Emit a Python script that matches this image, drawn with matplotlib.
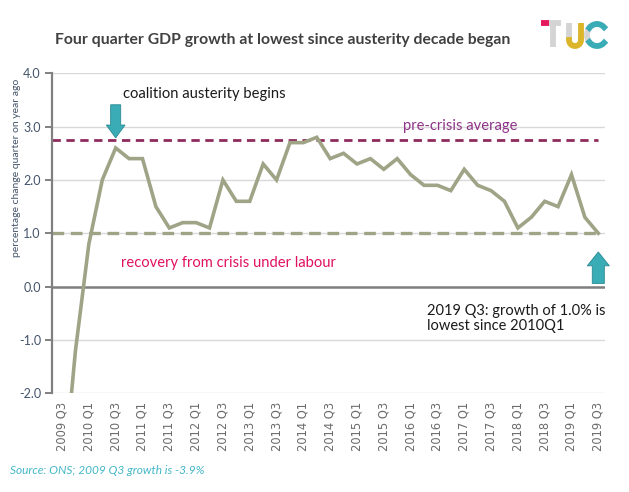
import numpy as np
import matplotlib
matplotlib.use("Agg")
import matplotlib.pyplot as plt
from matplotlib.patches import FancyArrow

plt.rcParams['font.family'] = ['Lato', 'DejaVu Sans']

# data: four quarter GDP growth, 2009 Q3 .. 2019 Q3
quarters = []
for year in range(2009, 2020):
    for q in range(1, 5):
        if (year == 2009 and q < 3) or (year == 2019 and q > 3):
            continue
        quarters.append("{} Q{}".format(year, q))

growth = [-3.9, -1.2,
          0.8, 2.0, 2.6, 2.4,
          2.4, 1.5, 1.1, 1.2,
          1.2, 1.1, 2.0, 1.6,
          1.6, 2.3, 2.0, 2.7,
          2.7, 2.8, 2.4, 2.5,
          2.3, 2.4, 2.2, 2.4,
          2.1, 1.9, 1.9, 1.8,
          2.2, 1.9, 1.8, 1.6,
          1.1, 1.3, 1.6, 1.5,
          2.1, 1.3, 1.0]

pre_crisis_avg = 2.75
latest = 1.0
y_ticks = [4.0, 3.0, 2.0, 1.0, 0.0, -1.0, -2.0]

line_col = "#a0a487"
teal = "#3aacb6"

fig = plt.figure(figsize=(6.29, 4.92), dpi=100)
ax = fig.add_axes([52/629, 1 - 393.3/492, 553/629, 320/492])

x = np.arange(len(growth))
x0, x1 = -0.75, len(growth) - 0.5
ax.set_xlim(x0, x1)
ax.set_ylim(-2.0, 4.0)

# gridlines
for v in y_ticks:
    if v == 0:
        continue
    ax.axhline(v, color="#d9d9d9", lw=1, zorder=0)
ax.axhline(0, color="#7f7f7f", lw=1.8, zorder=1)

# reference lines
ax.plot([x0, x[-1]], [pre_crisis_avg, pre_crisis_avg], color="#8e2a5c",
        lw=2, dashes=(3, 2), zorder=2)
ax.plot([x0, x[-1]], [latest, latest], color=line_col,
        lw=2.4, dashes=(3.5, 2), zorder=2)

ax.plot(x, growth, color=line_col, lw=2.6, zorder=3, solid_joinstyle="miter")

# axes styling
for s in ["top", "right", "bottom"]:
    ax.spines[s].set_visible(False)
ax.spines["left"].set_color("#808080")
ax.spines["left"].set_linewidth(1.6)
ax.set_yticks(y_ticks)
ax.set_yticklabels(["{:.1f}".format(v) for v in y_ticks])
ax.tick_params(axis="y", length=5, width=1.4, color="#808080",
               labelsize=9, labelcolor="#44546a", pad=3)
ax.set_xticks(x[::2])
ax.set_xticklabels(quarters[::2], rotation=90, fontsize=8.3,
                   color="#6b6b6b", family=["DejaVu Sans"])
ax.tick_params(axis="x", length=0, pad=6)

fig.text(17/629, 1 - 168/492, "percentage change quarter on year ago",
         rotation=90, ha="center", va="center", fontsize=7.5,
         color="#44546a")

# annotations
ax.text(4.55, 3.61, "coalition austerity begins", fontsize=10.6,
        color="#1a1a1a", va="center", ha="left")
ax.add_patch(FancyArrow(4, 3.41, 0, -0.62, width=0.75, head_width=1.4,
                        head_length=0.24, length_includes_head=True,
                        facecolor=teal, edgecolor="#2a8a92", lw=0.6, zorder=5))
ax.text(29.7, 3.02, "pre-crisis average", fontsize=10.6, color="#8e3388",
        ha="center", va="center")
ax.text(4.4, 0.44, "recovery from crisis under labour", fontsize=10.6,
        color="#e0115f", ha="left", va="center")
ax.add_patch(FancyArrow(40, 0.06, 0, 0.59, width=0.9, head_width=1.65,
                        head_length=0.26, length_includes_head=True,
                        facecolor=teal, edgecolor="#2a8a92", lw=0.6,
                        zorder=5, clip_on=False))
ax.text(27.2, -0.6, "2019 Q3: growth of 1.0% is\nlowest since 2010Q1",
        fontsize=10.5, color="#1a1a1a", ha="left", va="center",
        linespacing=1.05)

# title and source
fig.text(55/629, 1 - 40/492,
         "Four quarter GDP growth at lowest since austerity decade began",
         fontsize=11.3, fontweight="bold", color="#404040", va="center")
fig.text(10/629, 1 - 470/492, "Source: ONS; 2009 Q3 growth is -3.9%",
         fontsize=8.6, style="italic", color="#44b7c7", va="center")

# TUC logo
lg = fig.add_axes([535/629, 1 - 52/492, 75/629, 35/492])
lg.set_xlim(535, 610)
lg.set_ylim(52, 17)
lg.axis("off")
grey = "#d4d4d4"
lw = 4.2
lg.plot([541, 549], [23, 23], color="#e6175c", lw=lw, solid_capstyle="butt")
lg.plot([549, 561], [23, 23], color=grey, lw=lw, solid_capstyle="butt")
lg.plot([553, 553], [23, 47], color=grey, lw=lw, solid_capstyle="butt")
lg.plot([569, 569], [23, 40], color=grey, lw=lw, solid_capstyle="butt")
t = np.linspace(np.pi, 0, 30)
lg.plot(575 + 6*np.cos(t), 40 + 6*np.sin(t), color="#dbb62b", lw=lw)
lg.plot([581, 581], [23, 40], color="#dbb62b", lw=lw, solid_capstyle="butt")
t = np.linspace(np.radians(-140), np.radians(-220), 30)
lg.plot(597 + 10*np.cos(t), 35 + 11*np.sin(t), color=grey, lw=lw)
t = np.linspace(np.radians(-45), np.radians(-140), 20)
lg.plot(597 + 10*np.cos(t), 35 + 11*np.sin(t), color=teal, lw=lw)
t = np.linspace(np.radians(140), np.radians(45), 20)
lg.plot(597 + 10*np.cos(t), 35 + 11*np.sin(t), color=teal, lw=lw)

fig.savefig("out.png", dpi=100)
